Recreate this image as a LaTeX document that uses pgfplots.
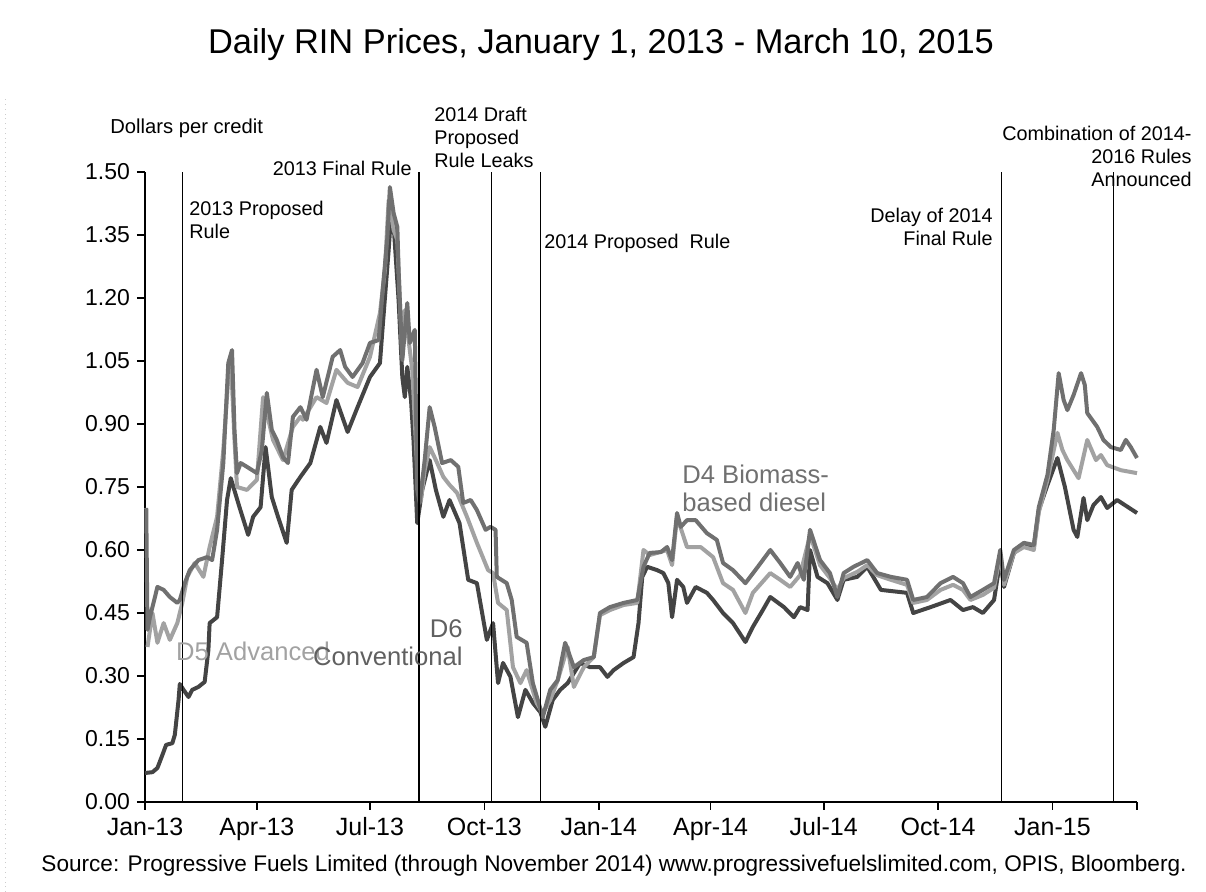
\documentclass[border=0pt]{standalone}
\usepackage{pgfplots}
\pgfplotsset{compat=1.18}
\usepackage{fontspec}
\setmainfont{Liberation Sans}

\definecolor{dsix}{RGB}{68,68,68}
\definecolor{dfour}{RGB}{112,112,112}
\definecolor{dfive}{RGB}{162,162,162}

\begin{document}
\begin{tikzpicture}
\useasboundingbox (-72.5pt,-45pt) rectangle (530.5pt,401pt);
\begin{axis}[
    scale only axis,
    width=496pt, height=315pt,
    xmin=0, xmax=798, ymin=0, ymax=1.5,
    axis x line*=bottom, axis y line*=left,
    axis line style={line width=0.8pt},
    tick align=outside,
    major tick length=4pt,
    tick style={black, line width=0.8pt},
    xtick={0,90,181,273,365,455,546,638,730,798},
    xticklabels={Jan-13,Apr-13,Jul-13,Oct-13,Jan-14,Apr-14,Jul-14,Oct-14,Jan-15,},
    ytick={0,0.15,0.3,0.45,0.6,0.75,0.9,1.05,1.2,1.35,1.5},
    yticklabel style={font=\fontsize{11.5}{13}\selectfont, /pgf/number format/.cd, fixed, fixed zerofill, precision=2, assume math mode=true},
    xticklabel style={font=\fontsize{12.5}{14}\selectfont, text height=9pt, text depth=2.5pt},
    clip=false,
    line join=round,
]
% D6 Conventional
\addplot[dsix, line width=2pt] coordinates {
(0,0.069)(6,0.071)(10,0.081)(14,0.112)(17,0.136)(22,0.140)(24,0.160)(27,0.243)(28,0.281)(31,0.267)
(35,0.250)(38,0.267)(43,0.274)(48,0.286)(51,0.362)(52,0.426)(58,0.440)(62,0.576)(66,0.719)(69,0.771)
(76,0.702)(83,0.636)(87,0.679)(93,0.702)(97,0.845)(102,0.726)(107,0.679)(114,0.617)(118,0.743)(125,0.774)
(133,0.807)(141,0.893)(146,0.855)(154,0.957)(163,0.881)(171,0.940)(181,1.012)(189,1.045)(191,1.124)(196,1.314)
(198,1.400)(200,1.374)(204,1.195)(207,1.012)(209,0.964)(211,1.036)(214,0.957)(216,0.862)(219,0.664)(223,0.743)
(229,0.814)(234,0.743)(240,0.679)(245,0.719)(253,0.664)(260,0.529)(267,0.521)(275,0.386)(280,0.426)(284,0.283)
(288,0.331)(294,0.298)(300,0.202)(306,0.267)(312,0.236)(318,0.214)(322,0.179)(328,0.243)(334,0.267)(340,0.283)
(350,0.331)(358,0.321)(366,0.321)(372,0.298)(377,0.314)(385,0.331)(393,0.345)(397,0.426)(400,0.536)(404,0.560)
(412,0.552)(417,0.545)(421,0.521)(424,0.440)(428,0.529)(433,0.512)(436,0.474)(443,0.512)(452,0.498)(457,0.481)
(465,0.450)(473,0.426)(483,0.381)(489,0.417)(497,0.457)(503,0.488)(514,0.464)(522,0.440)(527,0.464)(533,0.457)
(535,0.600)(541,0.536)(549,0.521)(557,0.481)(562,0.529)(573,0.536)(581,0.560)(592,0.505)(613,0.498)(618,0.450)
(632,0.464)(648,0.481)(658,0.457)(666,0.464)(674,0.450)(683,0.481)(688,0.576)(691,0.512)(699,0.593)(707,0.612)
(715,0.607)(719,0.695)(726,0.755)(734,0.819)(740,0.750)(747,0.648)(750,0.631)(755,0.724)(758,0.671)(763,0.707)
(769,0.726)(774,0.700)(782,0.719)(798,0.688)
};
% D5 Advanced
\addplot[dfive, line width=2pt] coordinates {
(2,0.369)(6,0.450)(10,0.379)(15,0.426)(20,0.386)(26,0.426)(30,0.474)(34,0.536)(40,0.569)(47,0.536)
(52,0.607)(58,0.679)(63,0.838)(68,1.052)(69,1.060)(72,0.862)(74,0.750)(82,0.743)(90,0.767)(95,0.964)
(103,0.862)(111,0.814)(119,0.893)(125,0.917)(127,0.910)(138,0.964)(146,0.950)(154,1.029)(163,0.998)(171,0.988)
(181,1.060)(189,1.164)(193,1.267)(196,1.433)(200,1.362)(203,1.338)(205,1.195)(207,1.060)(209,1.171)(212,1.100)
(215,1.029)(219,0.790)(222,0.719)(225,0.790)(229,0.845)(234,0.814)(240,0.774)(245,0.755)(251,0.736)(259,0.679)
(267,0.617)(276,0.552)(280,0.545)(284,0.474)(291,0.457)(296,0.321)(302,0.283)(307,0.314)(315,0.236)(320,0.212)
(326,0.243)(332,0.290)(340,0.369)(345,0.274)(353,0.321)(361,0.345)(366,0.445)(374,0.457)(385,0.469)(396,0.474)
(401,0.600)(406,0.588)(420,0.600)(424,0.564)(428,0.679)(436,0.607)(447,0.607)(457,0.583)(465,0.521)(473,0.505)
(483,0.450)(489,0.498)(503,0.545)(511,0.529)(519,0.512)(527,0.540)(535,0.636)(543,0.564)(551,0.533)(557,0.505)
(562,0.533)(573,0.548)(581,0.564)(589,0.540)(600,0.529)(613,0.517)(618,0.474)(629,0.481)(640,0.505)(650,0.517)
(658,0.505)(664,0.481)(674,0.493)(683,0.510)(688,0.588)(691,0.517)(699,0.593)(707,0.607)(715,0.600)(719,0.690)
(726,0.767)(734,0.879)(738,0.838)(742,0.814)(751,0.771)(758,0.862)(765,0.814)(769,0.826)(774,0.802)(785,0.790)
(798,0.783)
};
% D4 Biomass-based diesel
\addplot[dfour, line width=2pt] coordinates {
(1,0.700)(2,0.410)(4,0.440)(10,0.512)(15,0.505)(20,0.488)(26,0.474)(28,0.481)(32,0.521)(36,0.552)
(43,0.576)(50,0.583)(54,0.576)(58,0.648)(63,0.807)(67,1.045)(70,1.076)(72,0.886)(74,0.783)(77,0.807)
(82,0.798)(90,0.783)(94,0.838)(98,0.974)(102,0.886)(106,0.862)(111,0.821)(115,0.807)(119,0.917)(125,0.940)
(130,0.910)(138,1.029)(143,0.964)(151,1.060)(157,1.076)(161,1.036)(167,1.012)(175,1.045)(181,1.093)(188,1.100)
(191,1.212)(195,1.345)(197,1.464)(200,1.402)(203,1.369)(204,1.267)(207,1.052)(211,1.188)(213,1.093)(217,1.124)
(219,0.743)(221,0.712)(225,0.814)(229,0.940)(233,0.893)(239,0.807)(246,0.814)(252,0.798)(256,0.712)(262,0.719)
(267,0.695)(274,0.648)(278,0.655)(282,0.648)(283,0.536)(291,0.521)(295,0.481)(299,0.393)(307,0.379)(312,0.283)
(316,0.243)(320,0.202)(326,0.267)(332,0.290)(338,0.379)(345,0.321)(353,0.338)(361,0.345)(366,0.450)(374,0.464)
(385,0.474)(396,0.481)(401,0.560)(406,0.593)(415,0.595)(420,0.607)(424,0.576)(428,0.688)(431,0.655)(436,0.671)
(443,0.671)(452,0.640)(460,0.624)(465,0.569)(473,0.552)(483,0.521)(493,0.560)(503,0.600)(511,0.569)(519,0.536)
(525,0.569)(530,0.529)(535,0.648)(543,0.576)(551,0.545)(557,0.488)(562,0.545)(570,0.560)(581,0.576)(589,0.545)
(600,0.536)(613,0.529)(618,0.481)(629,0.488)(640,0.521)(650,0.536)(658,0.521)(664,0.488)(674,0.505)(683,0.521)
(688,0.600)(691,0.529)(699,0.600)(707,0.617)(715,0.612)(719,0.702)(726,0.779)(731,0.886)(735,1.021)(739,0.957)
(742,0.933)(747,0.969)(753,1.021)(756,0.993)(758,0.926)(766,0.893)(771,0.862)(777,0.845)(785,0.838)(789,0.862)
(793,0.845)(798,0.819)
};
% event lines
\addplot[black, line width=0.7pt] coordinates {(30,0) (30,1.5)};
\addplot[black, line width=0.7pt] coordinates {(220.5,0) (220.5,1.5)};
\addplot[black, line width=0.7pt] coordinates {(278.5,0) (278.5,1.5)};
\addplot[black, line width=0.7pt] coordinates {(318,0) (318,1.5)};
\addplot[black, line width=0.7pt] coordinates {(689,0) (689,1.5)};
\addplot[black, line width=0.7pt] coordinates {(779,0) (779,1.5)};
\end{axis}

% faint frame line at the left edge
\draw[gray!40, dotted] (-70pt,-45pt) -- (-70pt,353pt);

% title, units, source
\node[font=\fontsize{17.2}{20}\selectfont] at (228pt,378.5pt) {Daily RIN Prices, January 1, 2013 - March 10, 2015};
\node[font=\fontsize{10.1}{12}\selectfont, anchor=west, inner sep=0pt] at (-17.5pt,337pt) {Dollars per credit};
\node[font=\fontsize{11.3}{13}\selectfont] at (234.5pt,-32pt) {Source: Progressive Fuels Limited (through November 2014) www.progressivefuelslimited.com, OPIS, Bloomberg.};

% event annotations
\begin{scope}[every node/.style={inner sep=0pt, font=\fontsize{9.9}{11.5}\selectfont}]
\node[anchor=north west, align=left] at (22pt,300.5pt) {2013 Proposed\\Rule};
\node[anchor=east] at (133.5pt,317pt) {2013 Final Rule};
\node[anchor=north west, align=left] at (144.5pt,347.5pt) {2014 Draft\\Proposed\\Rule Leaks};
\node[anchor=west] at (199.5pt,279.5pt) {2014 Proposed\ \ Rule};
\node[anchor=north east, align=right] at (424pt,297pt) {Delay of 2014\\Final Rule};
\node[anchor=north east, align=right] at (523.5pt,338pt) {Combination of 2014-\\2016 Rules\\Announced};
\end{scope}

% series labels
\begin{scope}[every node/.style={inner sep=0pt, font=\fontsize{12.8}{14}\selectfont}]
\node[text=dfive] at (54pt,75.5pt) {D5 Advanced};
\node[text=dsix!85!white, anchor=north east, align=right] at (159pt,91.5pt) {D6\\Conventional};
\node[text=dfour, anchor=north west, align=left] at (268.5pt,168.5pt) {D4 Biomass-\\based diesel};
\end{scope}
\end{tikzpicture}
\end{document}
